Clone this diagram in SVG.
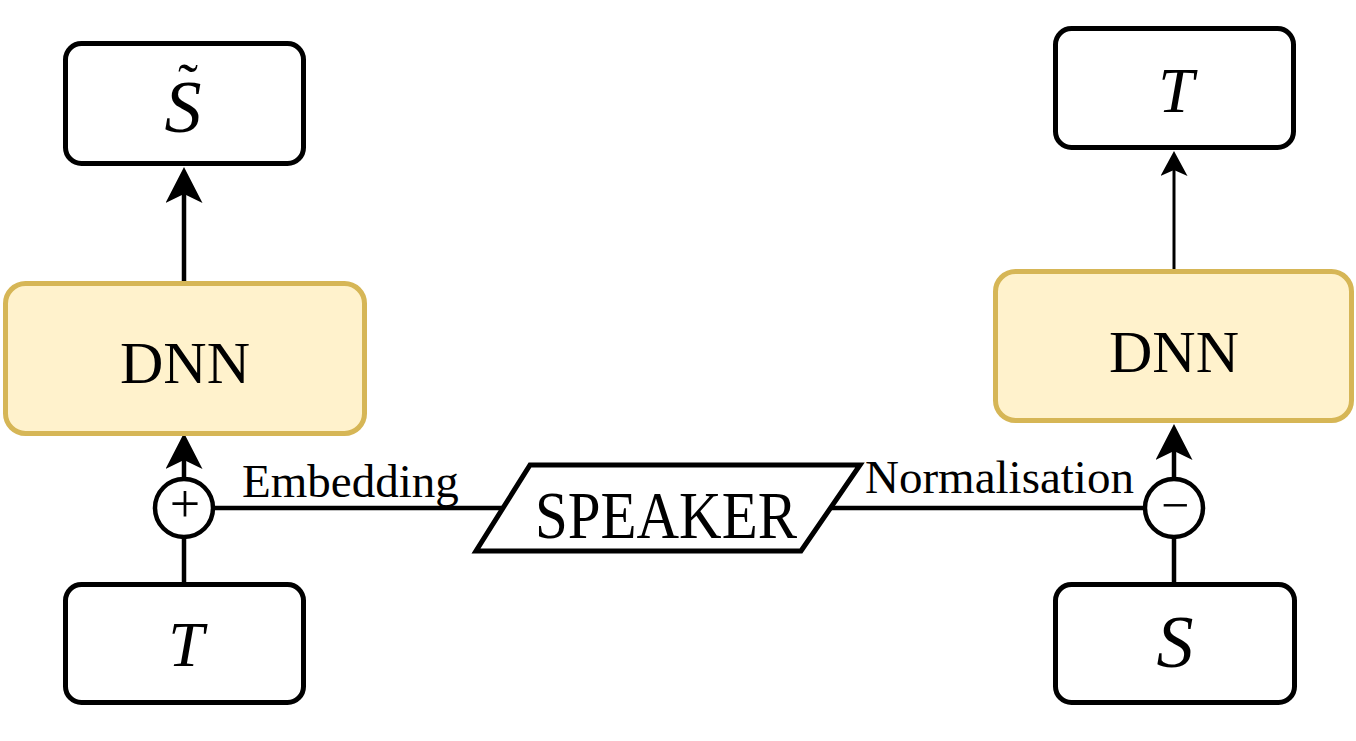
<svg xmlns="http://www.w3.org/2000/svg" width="1356" height="741" viewBox="0 0 1356 741">
<style>
.box{fill:#ffffff;stroke:#000000;stroke-width:5}
.dnn{fill:#fff2cc;stroke:#d6b656;stroke-width:5}
.op{fill:#ffffff;stroke:#000000;stroke-width:4.5}
.edge{fill:none;stroke:#000000;stroke-width:4.5}
.thin{fill:none;stroke:#000000;stroke-width:3}
.lbl{font-family:"Liberation Serif","Times New Roman",serif;fill:#000000}
.math{font-family:"Liberation Serif","Times New Roman",serif;font-style:italic;fill:#000000}
</style>
<defs>
<marker id="arrBig" markerUnits="userSpaceOnUse" markerWidth="36" markerHeight="37" viewBox="0 0 36 37" refX="9" refY="18.5" orient="auto">
<path d="M0,0 L36,18.5 L0,37 L9,18.5 Z" fill="#000000"/>
</marker>
<marker id="arrSmall" markerUnits="userSpaceOnUse" markerWidth="25" markerHeight="27" viewBox="0 0 25 27" refX="6" refY="13.5" orient="auto">
<path d="M0,0 L25,13.5 L0,27 L6,13.5 Z" fill="#000000"/>
</marker>
</defs>
<g id="connectors">
<line class="edge" x1="184" y1="281" x2="184" y2="194" marker-end="url(#arrBig)"/>
<line class="edge" x1="184" y1="478" x2="184" y2="460" marker-end="url(#arrBig)"/>
<line class="edge" x1="184" y1="538" x2="184" y2="584"/>
<line class="edge" x1="213" y1="508" x2="503" y2="508"/>
<line class="edge" x1="830" y1="508" x2="1145" y2="508"/>
<line class="edge" x1="1174" y1="478" x2="1174" y2="451" marker-end="url(#arrBig)"/>
<line class="edge" x1="1174" y1="538" x2="1174" y2="584"/>
<line class="thin" x1="1174" y1="270" x2="1174" y2="170" marker-end="url(#arrSmall)"/>
</g>
<g id="node-stilde">
<rect class="box" x="65.5" y="43.5" width="238" height="120" rx="16"/>
<text class="math" x="183" y="132" font-size="74" text-anchor="middle">S<tspan x="188" y="104" font-size="60" font-style="normal">&#732;</tspan></text>
</g>
<g id="node-dnn-left">
<rect class="dnn" x="5.5" y="283.5" width="359" height="150" rx="20"/>
<text class="lbl" x="185" y="383" font-size="60" text-anchor="middle">DNN</text>
</g>
<g id="node-plus">
<circle class="op" cx="184" cy="508" r="29"/>
<text class="lbl" x="185" y="521.5" font-size="54" text-anchor="middle">+</text>
</g>
<g id="node-t-left">
<rect class="box" x="65.5" y="584.5" width="238" height="118" rx="16"/>
<text class="math" x="186" y="666" font-size="64" text-anchor="middle">T</text>
</g>
<g id="node-speaker">
<polygon class="box" points="530,465 860,465 801,551 476,551"/>
<text class="lbl" x="535" y="538" font-size="68" textLength="262" lengthAdjust="spacingAndGlyphs">SPEAKER</text>
</g>
<g id="label-embedding">
<text class="lbl" x="242" y="497" font-size="47">Embedding</text>
</g>
<g id="label-normalisation">
<text class="lbl" x="865" y="493" font-size="47">Normalisation</text>
</g>
<g id="node-t-right">
<rect class="box" x="1055.5" y="28.5" width="238" height="119" rx="16"/>
<text class="math" x="1176" y="112" font-size="64" text-anchor="middle">T</text>
</g>
<g id="node-dnn-right">
<rect class="dnn" x="995.5" y="271.5" width="356" height="149" rx="20"/>
<text class="lbl" x="1174" y="372" font-size="60" text-anchor="middle">DNN</text>
</g>
<g id="node-minus">
<circle class="op" cx="1174" cy="508" r="29"/>
<text class="lbl" x="1175" y="521.5" font-size="50" text-anchor="middle">&#8722;</text>
</g>
<g id="node-s-right">
<rect class="box" x="1055.5" y="584.5" width="239" height="118" rx="16"/>
<text class="math" x="1175" y="667" font-size="74" text-anchor="middle">S</text>
</g>
</svg>
